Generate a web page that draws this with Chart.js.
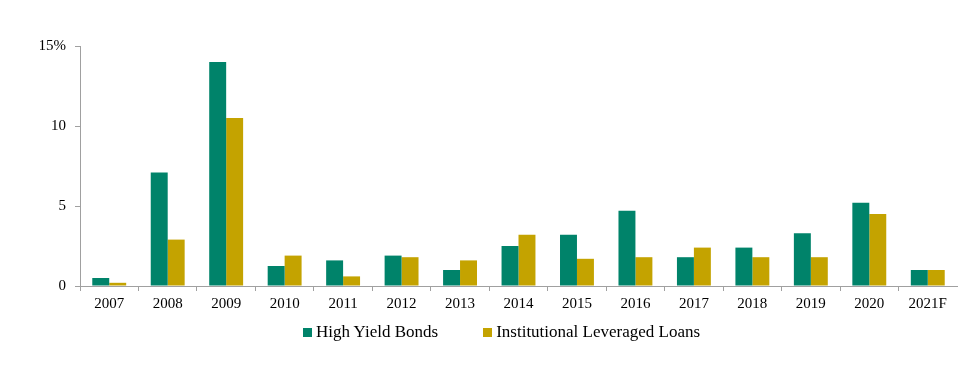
<!DOCTYPE html>
<html>
<head>
<meta charset="utf-8">
<script src="https://cdn.jsdelivr.net/npm/chart.js@4/dist/chart.umd.min.js"></script>
<style>
  html, body { margin: 0; padding: 0; background: #fff; }
  #wrap { position: relative; width: 979px; height: 373px; }
  #legend { position: absolute; left: 303px; top: 322px; height: 20px; display: flex; align-items: center;
            font-family: 'Liberation Serif', 'Times New Roman', serif; font-size: 17px; color: #000; }
  #legend .item { display: flex; align-items: center; }
  #legend .box { width: 9px; height: 9px; margin-right: 4px; }
</style>
</head>
<body>
<div id="wrap">
  <canvas id="chart" width="979" height="373"></canvas>
  <div id="legend"></div>
</div>
<script>
'use strict';

const years = ['2007', '2008', '2009', '2010', '2011', '2012', '2013', '2014', '2015', '2016', '2017', '2018', '2019', '2020', '2021F'];
const highYield = [0.5, 7.1, 14.0, 1.25, 1.6, 1.9, 1.0, 2.5, 3.2, 4.7, 1.8, 2.4, 3.3, 5.2, 1.0];
const levLoans = [0.2, 2.9, 10.5, 1.9, 0.6, 1.8, 1.6, 3.2, 1.7, 1.8, 2.4, 1.8, 1.8, 4.5, 1.0];
const yTicks = [0, 5, 10, 15];

const GREEN = '#00836a';
const GOLD = '#c4a300';
const AXIS = '#a0a0a0';
const FONT = { family: "'Liberation Serif', 'Times New Roman', serif", size: 15 };

const ctx = document.getElementById('chart').getContext('2d');
const chart = new Chart(ctx, {
  type: 'bar',
  data: {
    labels: years,
    datasets: [
      { label: 'High Yield Bonds', data: highYield, backgroundColor: GREEN, categoryPercentage: 0.58, barPercentage: 1 },
      { label: 'Institutional Leveraged Loans', data: levLoans, backgroundColor: GOLD, categoryPercentage: 0.58, barPercentage: 1 },
    ],
  },
  options: {
    responsive: false,
    animation: false,
    layout: { padding: { left: 40, right: 22, top: 46, bottom: 57 } },
    plugins: { legend: { display: false }, tooltip: { enabled: false } },
    scales: {
      x: {
        grid: { offset: true, drawOnChartArea: false, drawTicks: true, tickLength: 5,
                tickColor: c => (c.type === 'tick' ? AXIS : 'rgba(0,0,0,0)') },
        border: { display: true, color: AXIS, width: 1 },
        ticks: { color: '#000', font: FONT, padding: 4, maxRotation: 0, autoSkip: false },
        afterFit: s => { s.height = 30; },
      },
      y: {
        min: 0, max: 15,
        afterBuildTicks: s => { s.ticks = yTicks.map(v => ({ value: v })); },
        grid: { drawOnChartArea: false, drawTicks: true, tickLength: 5, tickColor: AXIS },
        border: { display: true, color: AXIS, width: 1 },
        ticks: { color: '#000', font: FONT, padding: 9, callback: v => (v === 15 ? '15%' : v) },
        afterFit: s => { s.width = 40; },
      },
    },
  },
});

// legend as real text, built from the datasets
const legendEl = document.getElementById('legend');
chart.data.datasets.forEach((ds, i) => {
  const item = document.createElement('div');
  item.className = 'item';
  if (i > 0) item.style.marginLeft = '45px';
  const box = document.createElement('span');
  box.className = 'box';
  box.style.background = ds.backgroundColor;
  const txt = document.createElement('span');
  txt.textContent = ds.label;
  item.appendChild(box);
  item.appendChild(txt);
  legendEl.appendChild(item);
});
</script>
</body>
</html>
